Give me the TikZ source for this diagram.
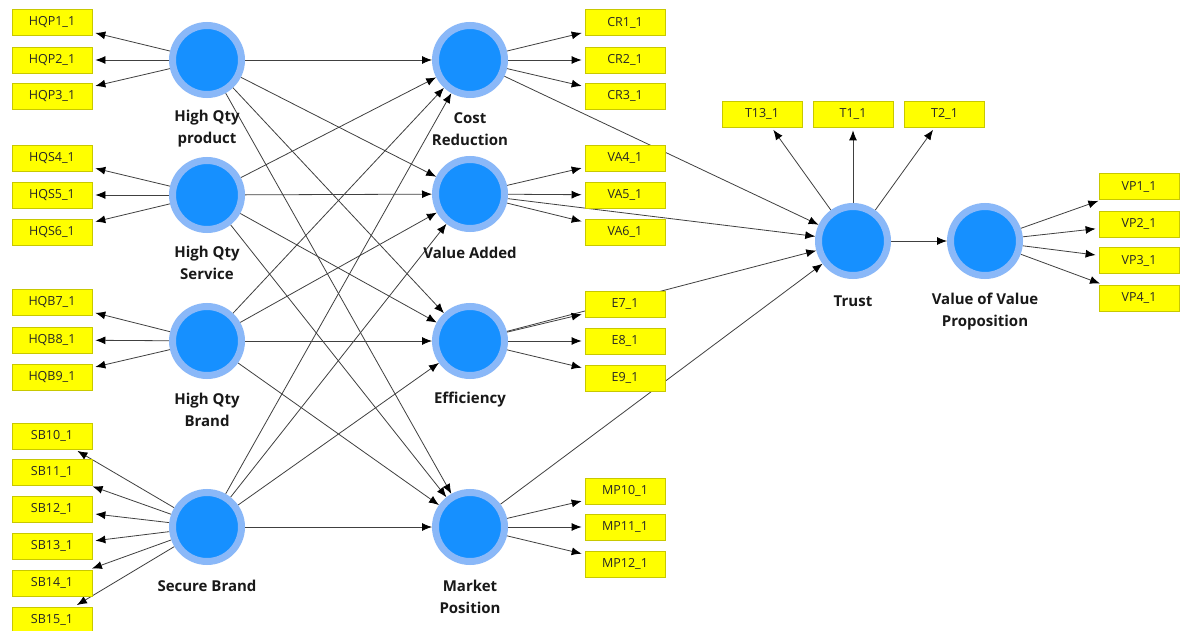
\documentclass[tikz,border=0pt]{standalone}
\usepackage{fontspec}
\setmainfont{Open Sans}
\usetikzlibrary{arrows.meta}
\definecolor{ring}{HTML}{8AB8F8}
\definecolor{core}{HTML}{1690FF}
\definecolor{ind}{HTML}{FFFF00}
\definecolor{indb}{HTML}{C8C800}
\pgfdeclarelayer{bg}\pgfsetlayers{bg,main}
\begin{document}
\begin{tikzpicture}[x=1pt,y=-1pt,
 lv/.style={circle,fill=core,draw=ring,line width=7pt,minimum size=69pt,inner sep=0pt},
 mv/.style={rectangle,fill=ind,draw=indb,line width=0.8pt,minimum width=80pt,minimum height=26pt,inner sep=0pt,font=\fontsize{12.5}{14}\selectfont,text=black!85},
 lab/.style={font=\bfseries\fontsize{15}{22}\selectfont,align=center,text=black!90},
 con/.style={draw=black!75,line width=0.8pt,-{Latex[length=10pt,width=8pt,color=black]}},
 meas/.style={con,shorten >=3pt}]
\useasboundingbox (0,0) rectangle (1180,631);
% latent variables
\node[lv] (HQP) at (207,60) {};
\node[lv] (HQS) at (207,195) {};
\node[lv] (HQB) at (207,341) {};
\node[lv] (SB) at (207,527) {};
\node[lv] (CR) at (470,60) {};
\node[lv] (VA) at (470,194) {};
\node[lv] (EF) at (470,341) {};
\node[lv] (MP) at (470,527) {};
\node[lv] (TR) at (853,241) {};
\node[lv] (VV) at (985,241) {};
% labels
\node[lab] (lHQP) at (207,129) {High Qty\\product};
\node[lab] (lHQS) at (207,263) {High Qty\\Service};
\node[lab] (lHQB) at (207,410) {High Qty\\Brand};
\node[lab] (lSB) at (207,586) {Secure Brand};
\node[lab] (lCR) at (470,129) {Cost\\Reduction};
\node[lab] (lVA) at (470,253) {Value Added};
\node[lab] (lEF) at (470,400) {Efficiency};
\node[lab] (lMP) at (470,597) {Market\\Position};
\node[lab] (lTR) at (853,301) {Trust};
\node[lab] (lVV) at (985,312) {Value of Value\\Proposition};
% indicators
\node[mv] (HQP1) at (52,22.5) {HQP1\_1};
\node[mv] (HQP2) at (52,60) {HQP2\_1};
\node[mv] (HQP3) at (52,96) {HQP3\_1};
\node[mv] (HQS4) at (52,158) {HQS4\_1};
\node[mv] (HQS5) at (52,195) {HQS5\_1};
\node[mv] (HQS6) at (52,232) {HQS6\_1};
\node[mv] (HQB7) at (52,302) {HQB7\_1};
\node[mv] (HQB8) at (52,340) {HQB8\_1};
\node[mv] (HQB9) at (52,377) {HQB9\_1};
\node[mv] (SB10) at (52,436) {SB10\_1};
\node[mv] (SB11) at (52,472) {SB11\_1};
\node[mv] (SB12) at (52,509) {SB12\_1};
\node[mv] (SB13) at (52,546) {SB13\_1};
\node[mv] (SB14) at (52,583) {SB14\_1};
\node[mv] (SB15) at (52,620) {SB15\_1};
\node[mv] (CR1) at (625,22.5) {CR1\_1};
\node[mv] (CR2) at (625,60) {CR2\_1};
\node[mv] (CR3) at (625,96) {CR3\_1};
\node[mv] (VA4) at (625,158) {VA4\_1};
\node[mv] (VA5) at (625,195) {VA5\_1};
\node[mv] (VA6) at (625,232) {VA6\_1};
\node[mv] (E7) at (625,304) {E7\_1};
\node[mv] (E8) at (625,341) {E8\_1};
\node[mv] (E9) at (625,378) {E9\_1};
\node[mv] (MP10) at (625,491) {MP10\_1};
\node[mv] (MP11) at (625,527) {MP11\_1};
\node[mv] (MP12) at (625,564) {MP12\_1};
\node[mv] (T13) at (762,114) {T13\_1};
\node[mv] (T1) at (853,114) {T1\_1};
\node[mv] (T2) at (944.5,114) {T2\_1};
\node[mv] (VP1) at (1139,186.5) {VP1\_1};
\node[mv] (VP2) at (1139,224) {VP2\_1};
\node[mv] (VP3) at (1139,260.5) {VP3\_1};
\node[mv] (VP4) at (1139,298) {VP4\_1};
\begin{pgfonlayer}{bg}
\fill[white] (0,0) rectangle (1180,631);
% structural paths
\foreach \s in {HQP,HQS,HQB,SB}{
  \foreach \t in {CR,VA,EF,MP}{
    \draw[con] (\s) -- (\t);
  }
}
\foreach \s in {CR,VA,EF,MP}{ \draw[con] (\s) -- (TR); }
\draw[con] (TR) -- (VV);
% measurement paths
\foreach \i in {HQP1,HQP2,HQP3}{ \draw[meas] (HQP) -- (\i); }
\foreach \i in {HQS4,HQS5,HQS6}{ \draw[meas] (HQS) -- (\i); }
\foreach \i in {HQB7,HQB8,HQB9}{ \draw[meas] (HQB) -- (\i); }
\foreach \i in {SB10,SB11,SB12,SB13,SB14,SB15}{ \draw[meas] (SB) -- (\i); }
\foreach \i in {CR1,CR2,CR3}{ \draw[meas] (CR) -- (\i); }
\foreach \i in {VA4,VA5,VA6}{ \draw[meas] (VA) -- (\i); }
\foreach \i in {E7,E8,E9}{ \draw[meas] (EF) -- (\i); }
\foreach \i in {MP10,MP11,MP12}{ \draw[meas] (MP) -- (\i); }
\foreach \i in {T13,T1,T2}{ \draw[meas] (TR) -- (\i); }
\foreach \i in {VP1,VP2,VP3,VP4}{ \draw[meas] (VV) -- (\i); }
\end{pgfonlayer}
\end{tikzpicture}
\end{document}
